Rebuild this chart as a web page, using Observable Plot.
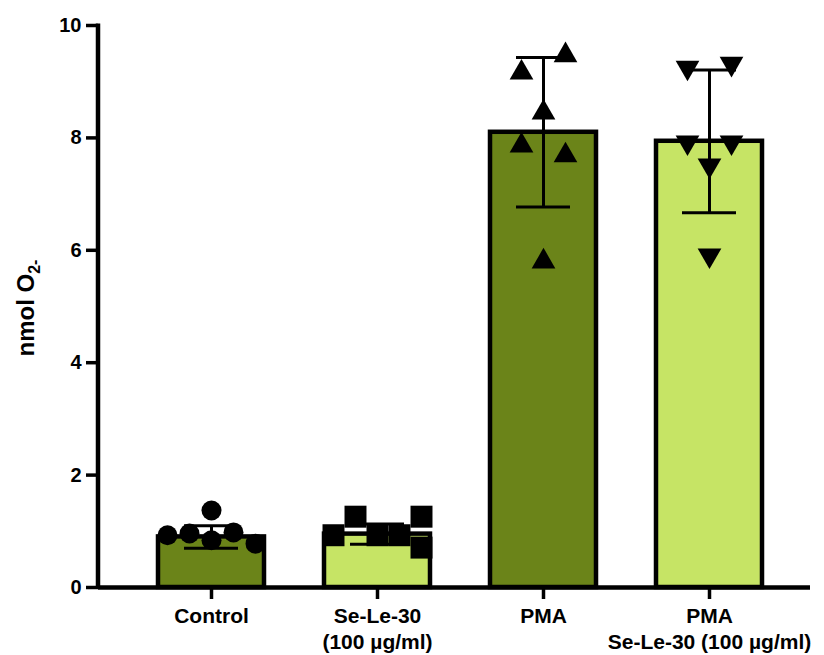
<!DOCTYPE html>
<html>
<head>
<meta charset="utf-8">
<script src="https://cdn.jsdelivr.net/npm/d3@7"></script>
<script src="https://cdn.jsdelivr.net/npm/@observablehq/plot@0.6"></script>
<style>
  html, body { margin: 0; padding: 0; background: #fff; }
</style>
</head>
<body>
<div id="chart"></div>
<script>
// Categories and tick labels
const categories = ["Control", "Se-Le-30", "PMA", "PMA+Se-Le-30"];
const tickLabels = ["Control", "Se-Le-30\n(100 µg/ml)", "PMA", "PMA\nSe-Le-30 (100 µg/ml)"];
const barColors = ["#6b8419", "#c6e465", "#6b8419", "#c6e465"];
const symbols = ["circle", "square", "triangle", "triangle"];
const rotations = [0, 0, 0, 180];
const symbolRadius = [10, 12.4, 8.8, 8.8];

// Bar means and SD (nmol O2-)
const means = [0.9, 0.95, 8.1, 7.94];
const sds = [0.2, 0.18, 1.33, 1.27];

// Individual points per group and their column slot in the scatter
const controlPts = [0.93, 0.96, 1.37, 0.84, 0.98, 0.78];
const controlSlots = [-2, -1, 0, 0, 1, 2];
const seLePts = [0.93, 1.26, 0.93, 0.93, 1.26, 0.71];
const seLeSlots = [-2, -1, 0, 1, 2, 2];
const pmaPts = [9.16, 9.47, 8.45, 7.86, 7.69, 5.8];
const pmaSlots = [-1, 1, 0, -1, 1, 0];
const pmaSePts = [9.25, 9.32, 7.92, 7.92, 7.51, 5.91];
const pmaSeSlots = [-1, 1, -1, 1, 0, 0];

const yTicks = [0, 2, 4, 6, 8, 10];
const yDomain = [0, 10];

const bars = categories.map((c, i) => ({cat: c, mean: means[i], sd: sds[i], color: barColors[i]}));
const groups = [[controlPts, controlSlots], [seLePts, seLeSlots], [pmaPts, pmaSlots], [pmaSePts, pmaSeSlots]];
const pts = groups.flatMap(([vals, slots], i) =>
  vals.map((v, j) => ({cat: categories[i], value: v, slot: slots[j], symbol: symbols[i], rotate: rotations[i], r: symbolRadius[i]})));

const slotStep = 22;
const slotValues = [-2, -1, 0, 1, 2];
const labelMap = new Map(categories.map((c, i) => [c, tickLabels[i]]));

const dotMarks = slotValues.map(s => Plot.dot(pts.filter(d => d.slot === s), {
  x: "cat", y: "value", dx: s * slotStep,
  symbol: "symbol", rotate: "rotate", r: "r",
  fill: "black", stroke: "none"
}));

const W = 824, marginLeft = 98, marginRight = 14;
const frameWidth = W - marginLeft - marginRight;
const axisLineWidth = 4.5;

const chart = Plot.plot({
  width: W,
  height: 655,
  marginLeft,
  marginRight,
  marginTop: 25,
  marginBottom: 68,
  style: {fontFamily: "'Liberation Sans', Arial, sans-serif", fontWeight: "bold", color: "black", background: "white"},
  x: {domain: categories, range: [157, 762.6], paddingInner: 0.363, paddingOuter: 0, label: null},
  y: {domain: yDomain, label: null},
  r: {type: "identity"},
  symbol: {type: "identity"},
  marks: [
    Plot.barY(bars, {x: "cat", y: "mean", fill: "color", stroke: "black", strokeWidth: 4.5}),
    ...dotMarks,
    Plot.ruleX(bars, {x: "cat", y1: d => d.mean - d.sd, y2: d => d.mean + d.sd, stroke: "black", strokeWidth: 3}),
    Plot.tickY(bars, {x: "cat", y: d => d.mean + d.sd, stroke: "black", strokeWidth: 3, insetLeft: 26, insetRight: 26}),
    Plot.tickY(bars, {x: "cat", y: d => d.mean - d.sd, stroke: "black", strokeWidth: 3, insetLeft: 26, insetRight: 26}),
    Plot.axisY({ticks: yTicks, tickSize: 12, tickPadding: 5, stroke: "black", strokeWidth: 3.5, fontSize: 20, fontWeight: "bold", label: null}),
    Plot.axisX({tickSize: 12, tickPadding: 6, stroke: "black", strokeWidth: 3.5, fontSize: 21, fontWeight: "bold", lineHeight: 1.2,
      tickFormat: d => labelMap.get(d), label: null}),
    // left axis line: a thin rect spanning the y domain at the frame's left edge
    Plot.rect([yDomain], {y1: d => d[0], y2: d => d[1], fill: "black", clip: false,
      insetLeft: -axisLineWidth / 2, insetRight: frameWidth - axisLineWidth / 2, insetTop: -1.5, insetBottom: -2}),
    Plot.ruleY([0], {strokeWidth: axisLineWidth, stroke: "black", clip: false})
  ]
});

const svg = d3.select(chart);

// Y axis title with subscript
const t = svg.append("text")
  .attr("transform", "translate(34,308) rotate(-90)")
  .attr("text-anchor", "middle")
  .attr("font-family", "'Liberation Sans', Arial, sans-serif")
  .attr("font-weight", "bold")
  .attr("font-size", 24)
  .attr("fill", "black");
t.append("tspan").text("nmol O");
t.append("tspan").attr("font-size", 16).attr("dy", 6).text("2-");

document.getElementById("chart").appendChild(chart);
</script>
</body>
</html>
